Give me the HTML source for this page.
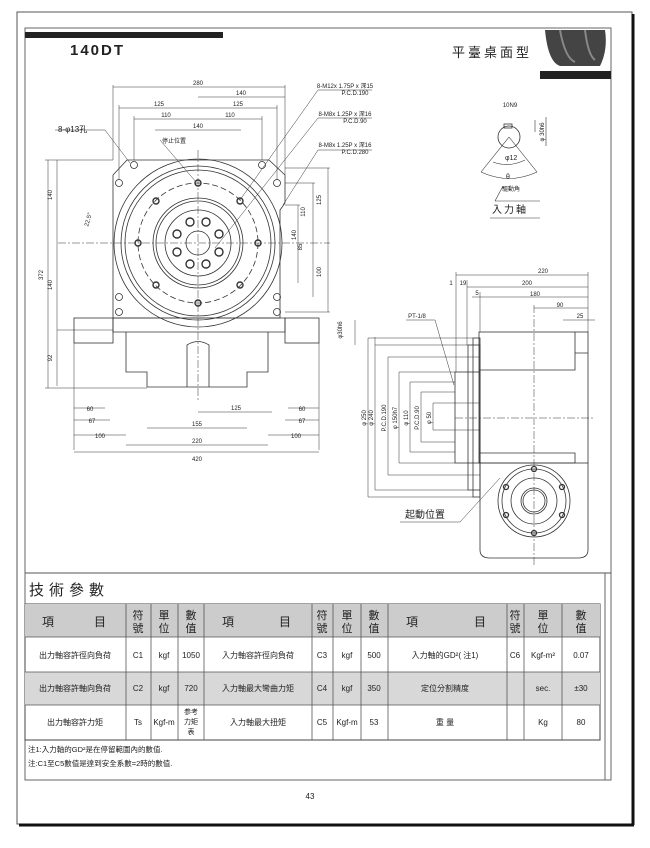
<!DOCTYPE html>
<html><head><meta charset="utf-8"><style>
html,body{margin:0;padding:0;background:#fff;width:650px;height:848px;overflow:hidden}
svg{display:block}
text{font-family:"Liberation Sans","Noto Sans CJK TC",sans-serif;fill:#222}
</style></head><body>
<svg width="650" height="848" viewBox="0 0 650 848" xmlns="http://www.w3.org/2000/svg">
<!-- page frame -->
<rect x="17" y="12" width="615" height="812" fill="#fff" stroke="#555" stroke-width="1"/>
<line x1="19" y1="825" x2="634" y2="825" stroke="#111" stroke-width="3"/>
<line x1="633" y1="14" x2="633" y2="825" stroke="#111" stroke-width="3"/>
<rect x="25" y="28" width="586" height="752" fill="#fff" stroke="#666" stroke-width="1"/>
<rect x="25" y="32" width="198" height="6" fill="#222"/>
<rect x="540" y="71" width="71" height="8" fill="#222"/>
<path d="M545 30 Q548 62 560 66 L600 66 Q608 50 605 30 Z" fill="#444"/>
<path d="M560 30 Q565 58 575 62 M585 30 Q588 55 595 60" stroke="#888" fill="none" stroke-width="2"/>
<text x="70" y="55" font-size="15" font-weight="bold" letter-spacing="2">140DT</text>
<text x="452" y="57" font-size="13" letter-spacing="3">平臺桌面型</text>

<g stroke="#333" fill="none" stroke-width="0.8">
<!-- front view body -->
<path d="M127 160 L269 160 L285 175 L285 203 L280 210 L280 318 L113 318 L113 210 L113 175 Z"/>
<path d="M113 318 L285 318 L285 332 L113 332 Z"/>
<rect x="74" y="318" width="39" height="25"/>
<rect x="285" y="318" width="34" height="25"/>
<path d="M126 332 L126 372 L147 372 L147 387 L247 387 L247 372 L268 372 L268 332"/>
<path d="M187 387 L187 345 Q198 338 209 345 L209 387"/>
<circle cx="198" cy="243" r="84"/>
<circle cx="198" cy="243" r="77"/>
<circle cx="198" cy="243" r="73"/>
<circle cx="198" cy="243" r="60" stroke-dasharray="6 3"/>
<circle cx="198" cy="243" r="45"/>
<circle cx="198" cy="243" r="42"/>
<circle cx="198" cy="243" r="33"/>
<circle cx="198" cy="243" r="12"/>
<g stroke-width="1.4">
<circle cx="198" cy="183" r="3"/><circle cx="198" cy="303" r="3"/><circle cx="138" cy="243" r="3"/><circle cx="258" cy="243" r="3"/>
<circle cx="156" cy="201" r="3"/><circle cx="240" cy="201" r="3"/><circle cx="156" cy="285" r="3"/><circle cx="240" cy="285" r="3"/>
<circle cx="177" cy="234" r="4"/><circle cx="219" cy="234" r="4"/><circle cx="177" cy="252" r="4"/><circle cx="219" cy="252" r="4"/>
<circle cx="190" cy="222" r="4"/><circle cx="206" cy="222" r="4"/><circle cx="190" cy="264" r="4"/><circle cx="206" cy="264" r="4"/>
</g>
<circle cx="134" cy="165" r="3.5"/><circle cx="262" cy="165" r="3.5"/><circle cx="119" cy="183" r="3.5"/><circle cx="277" cy="183" r="3.5"/>
<circle cx="119" cy="297" r="3.5"/><circle cx="277" cy="297" r="3.5"/><circle cx="119" cy="312" r="3.5"/><circle cx="277" cy="312" r="3.5"/>
<line x1="198" y1="150" x2="198" y2="400" stroke-dasharray="8 2 2 2" stroke-width="0.5"/>
<line x1="58" y1="243" x2="330" y2="243" stroke-dasharray="8 2 2 2" stroke-width="0.5"/>
<g stroke-width="0.5">
<line x1="113" y1="87" x2="285" y2="87"/><line x1="198" y1="97" x2="285" y2="97"/>
<line x1="119" y1="108" x2="198" y2="108"/><line x1="198" y1="108" x2="277" y2="108"/>
<line x1="134" y1="119" x2="198" y2="119"/><line x1="198" y1="119" x2="262" y2="119"/>
<line x1="155" y1="130" x2="241" y2="130"/>
<line x1="113" y1="85" x2="113" y2="160"/><line x1="285" y1="85" x2="285" y2="175"/>
<line x1="119" y1="105" x2="119" y2="180"/><line x1="277" y1="105" x2="277" y2="180"/>
<line x1="134" y1="116" x2="134" y2="160"/><line x1="262" y1="116" x2="262" y2="160"/>
<line x1="45" y1="160" x2="113" y2="160"/><line x1="45" y1="388" x2="147" y2="388"/>
<line x1="48" y1="160" x2="48" y2="388"/><line x1="57" y1="160" x2="57" y2="386"/>
<line x1="57" y1="330" x2="113" y2="330"/>
<line x1="285" y1="168" x2="330" y2="168"/><line x1="285" y1="183" x2="315" y2="183"/><line x1="285" y1="205" x2="300" y2="205"/>
<line x1="328" y1="168" x2="328" y2="312"/><line x1="313" y1="183" x2="313" y2="297"/><line x1="298" y1="205" x2="298" y2="283"/>
<line x1="285" y1="312" x2="330" y2="312"/>
<line x1="74" y1="343" x2="74" y2="450"/><line x1="319" y1="343" x2="319" y2="450"/>
<line x1="74" y1="408" x2="105" y2="408"/><line x1="74" y1="420" x2="110" y2="420"/><line x1="74" y1="435" x2="126" y2="435"/>
<line x1="126" y1="445" x2="268" y2="445"/><line x1="147" y1="428" x2="247" y2="428"/><line x1="198" y1="412" x2="272" y2="412"/>
<line x1="288" y1="408" x2="319" y2="408"/><line x1="285" y1="420" x2="319" y2="420"/><line x1="268" y1="435" x2="319" y2="435"/>
<line x1="74" y1="452" x2="319" y2="452"/>
<line x1="55" y1="130" x2="105" y2="130"/><line x1="105" y1="130" x2="130" y2="163"/>
<line x1="160" y1="140" x2="196" y2="182"/>
<line x1="318" y1="90" x2="240" y2="200"/><line x1="318" y1="118" x2="215" y2="248"/><line x1="318" y1="150" x2="283" y2="205"/>
<line x1="318" y1="90" x2="372" y2="90"/><line x1="318" y1="118" x2="372" y2="118"/><line x1="318" y1="150" x2="372" y2="150"/>
<line x1="375" y1="337" x2="375" y2="345"/><line x1="355" y1="320" x2="355" y2="345"/>
</g>

<!-- right side view -->
<rect x="479" y="332" width="109" height="131"/>
<path d="M479 370 L575 370 L575 353 L588 353 M575 332 L575 353"/>
<path d="M479 463 L575 463 L575 453 L479 453"/>
<rect x="455" y="372" width="25" height="91"/>
<rect x="468" y="345" width="12" height="145"/>
<rect x="473" y="338" width="7" height="159"/>
<path d="M480 463 L480 550 Q480 558 490 558 L578 558 Q588 558 588 550 L588 463"/>
<circle cx="534" cy="501" r="36"/><circle cx="534" cy="501" r="32"/><circle cx="534" cy="501" r="23"/><circle cx="534" cy="501" r="13"/><circle cx="534" cy="501" r="11"/>
<g stroke-width="1.3"><circle cx="534" cy="469" r="2.5"/><circle cx="534" cy="533" r="2.5"/><circle cx="506" cy="487" r="2.5"/><circle cx="562" cy="487" r="2.5"/><circle cx="506" cy="515" r="2.5"/><circle cx="562" cy="515" r="2.5"/></g>
<g stroke-width="0.5">
<line x1="534" y1="305" x2="534" y2="565" stroke-dasharray="8 2 2 2"/>
<line x1="455" y1="418" x2="595" y2="418" stroke-dasharray="8 2 2 2"/>
<line x1="456" y1="275" x2="588" y2="275"/><line x1="467" y1="287" x2="588" y2="287"/><line x1="472" y1="297" x2="588" y2="297"/><line x1="534" y1="308" x2="588" y2="308"/><line x1="563" y1="320" x2="595" y2="320"/>
<line x1="588" y1="272" x2="588" y2="332"/><line x1="456" y1="272" x2="456" y2="372"/><line x1="467" y1="280" x2="467" y2="345"/><line x1="480" y1="292" x2="480" y2="332"/>
<line x1="368" y1="338" x2="473" y2="338"/><line x1="375" y1="345" x2="468" y2="345"/><line x1="388" y1="357" x2="480" y2="357"/><line x1="399" y1="372" x2="455" y2="372"/><line x1="410" y1="382" x2="455" y2="382"/><line x1="421" y1="392" x2="455" y2="392"/><line x1="433" y1="403" x2="480" y2="403"/>
<line x1="368" y1="497" x2="473" y2="497"/><line x1="375" y1="490" x2="468" y2="490"/><line x1="388" y1="475" x2="480" y2="475"/><line x1="399" y1="463" x2="455" y2="463"/><line x1="410" y1="452" x2="455" y2="452"/><line x1="421" y1="442" x2="455" y2="442"/><line x1="433" y1="430" x2="480" y2="430"/>
<line x1="368" y1="338" x2="368" y2="497"/><line x1="375" y1="345" x2="375" y2="490"/><line x1="388" y1="357" x2="388" y2="475"/><line x1="399" y1="372" x2="399" y2="463"/><line x1="410" y1="382" x2="410" y2="452"/><line x1="421" y1="392" x2="421" y2="442"/><line x1="433" y1="403" x2="433" y2="430"/>
<line x1="406" y1="320" x2="435" y2="320"/><line x1="435" y1="320" x2="454" y2="385"/>
<line x1="400" y1="522" x2="460" y2="522"/><line x1="460" y1="522" x2="500" y2="478"/>
</g>
<!-- input shaft -->
<circle cx="509" cy="137" r="11"/>
<rect x="504" y="124" width="8" height="4"/>
<g stroke-width="0.6"><line x1="509" y1="137" x2="481" y2="172"/><line x1="509" y1="137" x2="537" y2="172"/>
<path d="M481 172 Q509 185 537 172"/><path d="M493 162 Q509 168 525 160"/>
<line x1="495" y1="201" x2="540" y2="201"/><line x1="495" y1="201" x2="503" y2="186"/>
<line x1="490" y1="218" x2="540" y2="218"/>
<line x1="546" y1="117" x2="546" y2="146"/><line x1="535" y1="120" x2="535" y2="132"/></g>
</g>

<g font-size="6" text-anchor="middle">
<text x="198" y="85">280</text><text x="241" y="95">140</text><text x="159" y="106">125</text><text x="238" y="106">125</text>
<text x="166" y="117">110</text><text x="230" y="117">110</text><text x="198" y="128">140</text>
<text x="174" y="143">停止位置</text>
<text x="345" y="88">8-M12x 1.75P x 深15</text><text x="355" y="95">P.C.D.190</text>
<text x="345" y="116">8-M8x 1.25P x 深16</text><text x="355" y="123">P.C.D.90</text>
<text x="345" y="147">8-M8x 1.25P x 深16</text><text x="355" y="154">P.C.D.280</text>
<text x="90" y="411">60</text><text x="92" y="423">67</text><text x="100" y="438">100</text>
<text x="236" y="410">125</text><text x="197" y="426">155</text><text x="197" y="443">220</text><text x="197" y="461">420</text>
<text x="302" y="411">60</text><text x="302" y="423">67</text><text x="296" y="438">100</text>
<text x="543" y="273">220</text><text x="527" y="285">200</text><text x="535" y="296">180</text><text x="560" y="307">90</text><text x="580" y="318">25</text>
<text x="451" y="285">1</text><text x="463" y="285">19</text><text x="477" y="295">5</text>
<text x="417" y="318">PT-1/8</text>
<text x="510" y="107">10N9</text>
<text x="511" y="191">驅動角</text>
</g>
<g font-size="6" text-anchor="middle">
<text transform="translate(52,195) rotate(-90)">140</text><text transform="translate(52,285) rotate(-90)">140</text>
<text transform="translate(43,275) rotate(-90)">372</text><text transform="translate(52,358) rotate(-90)">92</text>
<text transform="translate(296,235) rotate(-90)">140</text><text transform="translate(302,247) rotate(-90)">85</text>
<text transform="translate(305,212) rotate(-90)">110</text><text transform="translate(321,200) rotate(-90)">125</text><text transform="translate(321,272) rotate(-90)">100</text>
<text transform="translate(342,330) rotate(-90)">φ30h6</text>
<text transform="translate(366,418) rotate(-90)">φ 250</text><text transform="translate(373,418) rotate(-90)">φ 240</text>
<text transform="translate(386,418) rotate(-90)">P.C.D.190</text><text transform="translate(397,418) rotate(-90)">φ 150h7</text>
<text transform="translate(408,418) rotate(-90)">φ 110</text><text transform="translate(419,418) rotate(-90)">P.C.D.90</text><text transform="translate(431,418) rotate(-90)">φ 50</text>
<text transform="translate(90,220) rotate(-75)">22.5°</text>
<text transform="translate(544,132) rotate(-90)">φ 30h6</text>
</g>
<text x="58" y="132" font-size="8">8-φ13孔</text>
<text x="405" y="518" font-size="10">起動位置</text>
<text x="492" y="213" font-size="10" letter-spacing="2">入力軸</text>
<text x="505" y="160" font-size="7">φ12</text><text x="506" y="179" font-size="7">θ</text>

<!-- table section -->
<line x1="25" y1="573" x2="611" y2="573" stroke="#555"/>
<text x="29" y="595" font-size="15" letter-spacing="5">技術參數</text>
<g font-size="8" text-anchor="middle">
<rect x="25" y="604" width="575" height="136" fill="#fff" stroke="#444"/>
<rect x="25" y="604" width="575" height="33" fill="#ccc"/>
<rect x="25" y="672" width="575" height="33" fill="#d8d8d8"/>
<g stroke="#555" stroke-width="0.8">
<line x1="25" y1="637" x2="600" y2="637"/><line x1="25" y1="672" x2="600" y2="672"/><line x1="25" y1="705" x2="600" y2="705"/>
<line x1="126" y1="604" x2="126" y2="740"/><line x1="151" y1="604" x2="151" y2="740"/><line x1="178" y1="604" x2="178" y2="740"/><line x1="204" y1="604" x2="204" y2="740"/>
<line x1="312" y1="604" x2="312" y2="740"/><line x1="333" y1="604" x2="333" y2="740"/><line x1="361" y1="604" x2="361" y2="740"/><line x1="388" y1="604" x2="388" y2="740"/>
<line x1="507" y1="604" x2="507" y2="740"/><line x1="524" y1="604" x2="524" y2="740"/><line x1="562" y1="604" x2="562" y2="740"/>
</g>
<g font-size="12">
<text x="48" y="626">項</text><text x="100" y="626">目</text>
<text x="228" y="626">項</text><text x="285" y="626">目</text>
<text x="412" y="626">項</text><text x="480" y="626">目</text>
</g>
<g font-size="11">
<text x="138" y="619">符</text><text x="138" y="632">號</text><text x="164" y="619">單</text><text x="164" y="632">位</text><text x="191" y="619">數</text><text x="191" y="632">值</text>
<text x="322" y="619">符</text><text x="322" y="632">號</text><text x="347" y="619">單</text><text x="347" y="632">位</text><text x="374" y="619">數</text><text x="374" y="632">值</text>
<text x="515" y="619">符</text><text x="515" y="632">號</text><text x="543" y="619">單</text><text x="543" y="632">位</text><text x="581" y="619">數</text><text x="581" y="632">值</text>
</g>
<text x="75" y="658">出力軸容許徑向負荷</text><text x="138" y="658">C1</text><text x="164" y="658">kgf</text><text x="191" y="658">1050</text>
<text x="258" y="658">入力軸容許徑向負荷</text><text x="322" y="658">C3</text><text x="347" y="658">kgf</text><text x="374" y="658">500</text>
<text x="445" y="658">入力軸的GD²( 注1)</text><text x="515" y="658">C6</text><text x="543" y="658">Kgf-m²</text><text x="581" y="658">0.07</text>
<text x="75" y="691">出力軸容許軸向負荷</text><text x="138" y="691">C2</text><text x="164" y="691">kgf</text><text x="191" y="691">720</text>
<text x="258" y="691">入力軸最大彎曲力矩</text><text x="322" y="691">C4</text><text x="347" y="691">kgf</text><text x="374" y="691">350</text>
<text x="445" y="691">定位分割精度</text><text x="543" y="691">sec.</text><text x="581" y="691">±30</text>
<text x="75" y="725">出力軸容許力矩</text><text x="138" y="725">Ts</text><text x="164" y="725">Kgf-m</text>
<text x="191" y="714" font-size="7">参考</text><text x="191" y="724" font-size="7">力矩</text><text x="191" y="734" font-size="7">表</text>
<text x="258" y="725">入力軸最大扭矩</text><text x="322" y="725">C5</text><text x="347" y="725">Kgf-m</text><text x="374" y="725">53</text>
<text x="445" y="725">重 量</text><text x="543" y="725">Kg</text><text x="581" y="725">80</text>
</g>
<text x="28" y="752" font-size="7.5">注1:入力軸的GD²是在停留範圍內的數值.</text>
<text x="28" y="766" font-size="7.5">注:C1至C5數值是達到安全系數=2時的數值.</text>
<line x1="25" y1="780" x2="605" y2="780" stroke="#666"/>
<line x1="605" y1="573" x2="605" y2="780" stroke="#666"/>
<text x="310" y="799" font-size="8" text-anchor="middle">43</text>
</svg>
</body></html>
